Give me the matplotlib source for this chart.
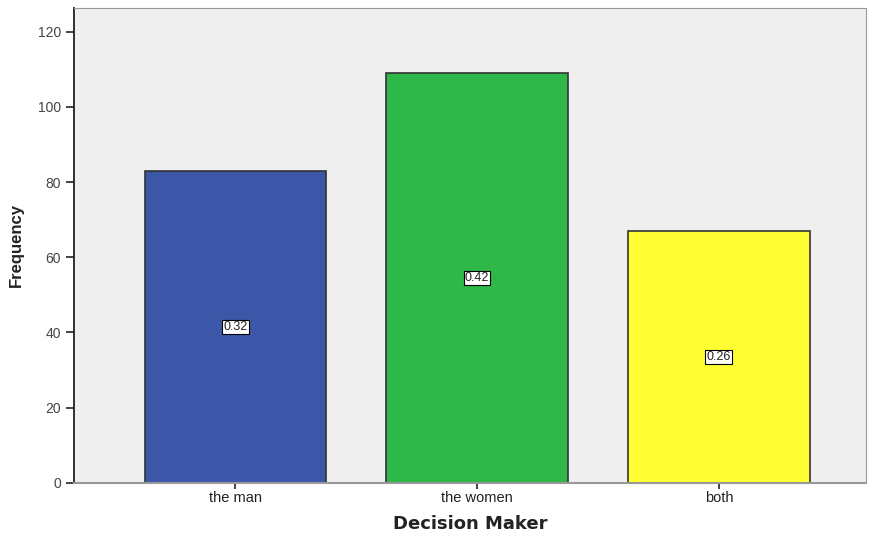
import numpy as np
import matplotlib.pyplot as plt

plt.rcParams['font.family'] = ['Liberation Sans', 'DejaVu Sans']

categories = ['the man', 'the women', 'both']
frequency = [83, 109, 67]
proportion = ['0.32', '0.42', '0.26']
colors = ['#3C56A8', '#2EB84A', '#FFFF33']

fig = plt.figure(figsize=(8.7, 5.33), dpi=100)
ax = fig.add_axes([0.085, 0.094, 0.910, 0.891])
ax.set_facecolor('#EFEFEF')

x = np.arange(len(categories))
bars = ax.bar(x, frequency, width=0.75, color=colors, edgecolor='#333333', linewidth=1.2, zorder=2)

for xi, f, p in zip(x, frequency, proportion):
    ax.text(xi, f / 2, p, ha='center', va='center', fontsize=9, color='#222222',
            bbox=dict(boxstyle='square,pad=0.1', facecolor='white', edgecolor='black', linewidth=0.8),
            zorder=3)

ax.set_xlim(-0.667, 2.607)
ax.set_ylim(0, 126.3)
ax.set_xticks(x)
ax.set_xticklabels(categories, fontsize=10.5, color='#222222')
ax.set_yticks([0, 20, 40, 60, 80, 100, 120])
ax.tick_params(axis='y', labelsize=10, labelcolor='#444444', length=6, width=1.2, color='#222222')
ax.tick_params(axis='x', length=4, width=1.2, color='#222222', pad=2)

ax.spines['left'].set_color('#222222')
ax.spines['left'].set_linewidth(1.3)
ax.spines['bottom'].set_color('#999999')
ax.spines['bottom'].set_linewidth(1.5)
ax.spines['top'].set_color('#999999')
ax.spines['right'].set_color('#999999')

ax.set_ylabel('Frequency', fontsize=12, fontweight='bold', color='#222222', labelpad=10)
ax.set_xlabel('Decision Maker', fontsize=13, fontweight='bold', color='#222222', labelpad=7,
              family='DejaVu Sans')

plt.savefig('out.png', dpi=100)
